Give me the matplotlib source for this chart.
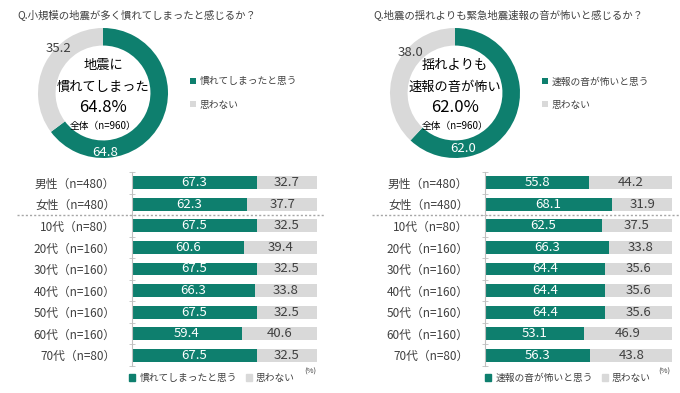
import numpy as np
import matplotlib
matplotlib.use("Agg")
import matplotlib.pyplot as plt
from matplotlib.patches import Patch

plt.rcParams["font.family"] = ["Noto Sans CJK JP", "DejaVu Sans"]

GREEN = "#0e7f6e"
GRAY  = "#d9d9d9"
TXT   = "#404040"
W, H  = 680, 393

CATEGORIES = ["男性（n=480）", "女性（n=480）", "10代（n=80）", "20代（n=160）",
              "30代（n=160）", "40代（n=160）", "50代（n=160）", "60代（n=160）",
              "70代（n=80）"]

# left panel: 慣れてしまった
L_TITLE  = "Q.小規模の地震が多く慣れてしまったと感じるか？"
L_TOTAL  = [64.8, 35.2]
L_CENTER = ["地震に", "慣れてしまった"]
L_LEGEND = ["慣れてしまったと思う", "思わない"]
L_YES    = [67.3, 62.3, 67.5, 60.6, 67.5, 66.3, 67.5, 59.4, 67.5]
L_NO     = [32.7, 37.7, 32.5, 39.4, 32.5, 33.8, 32.5, 40.6, 32.5]

# right panel: 緊急地震速報の音
R_TITLE  = "Q.地震の揺れよりも緊急地震速報の音が怖いと感じるか？"
R_TOTAL  = [62.0, 38.0]
R_CENTER = ["揺れよりも", "速報の音が怖い"]
R_LEGEND = ["速報の音が怖いと思う", "思わない"]
R_YES    = [55.8, 68.1, 62.5, 66.3, 64.4, 64.4, 64.4, 53.1, 56.3]
R_NO     = [44.2, 31.9, 37.5, 33.8, 35.6, 35.6, 35.6, 46.9, 43.8]


def px_axes(fig, x0, y0, x1, y1):
    """axes from pixel box (top-left origin)."""
    return fig.add_axes([x0 / W, 1 - y1 / H, (x1 - x0) / W, (y1 - y0) / H])


def draw_donut(fig, cx, cy, total, center, legend, lab_yes, lab_no, leg_x):
    r = 65
    ax = px_axes(fig, cx - r, cy - r, cx + r, cy + r)
    wedges, _ = ax.pie(total, colors=[GREEN, GRAY], startangle=90,
                       counterclock=False, radius=1.0,
                       wedgeprops=dict(width=0.27, edgecolor="none"))
    ax.set_xlim(-1, 1); ax.set_ylim(-1, 1)
    ax.set_aspect("auto")
    ax.axis("off")
    ax.text(*lab_yes, f"{total[0]:.1f}", color="white", fontsize=9.5,
            ha="center", va="center")
    ax.text(*lab_no, f"{total[1]:.1f}", color=TXT, fontsize=9.5,
            ha="center", va="center")
    ax.text(0.0, 0.42, center[0], fontsize=9.5, color="black",
            ha="center", va="center")
    ax.text(0.0, 0.09, center[1], fontsize=9.5, color="black",
            ha="center", va="center")
    ax.text(0.0, -0.22, f"{total[0]:.1f}%", fontsize=12, color="black",
            ha="center", va="center")
    ax.text(0.0, -0.51, "全体（n=960）", fontsize=7, color="black",
            ha="center", va="center")
    fig.legend(wedges, legend, loc="center left",
               bbox_to_anchor=(leg_x / W, 1 - 93 / H), frameon=False,
               fontsize=7, handlelength=0.65, handleheight=0.65,
               handletextpad=0.4, labelspacing=1.35, labelcolor=TXT)


def draw_bars(fig, x0, x1, yes, no, legend, leg_cx, pct_x, dash):
    ax = px_axes(fig, x0, 172, x1, 366)
    y = np.arange(len(CATEGORIES))
    ax.barh(y, yes, height=0.6, color=GREEN)
    ax.barh(y, no, left=yes, height=0.6, color=GRAY)
    for i in range(len(y)):
        ax.text(yes[i] / 2, y[i], f"{yes[i]:.1f}", color="white",
                fontsize=9.5, ha="center", va="center")
        ax.text(yes[i] + no[i] / 2, y[i], f"{no[i]:.1f}", color=TXT,
                fontsize=9.5, ha="center", va="center")
    ax.set_xlim(0, 100)
    ax.set_ylim(len(y) - 0.5, -0.5)
    ax.set_yticks(y)
    ax.set_yticklabels(CATEGORIES, fontsize=8.5, color=TXT)
    ax.set_yticks(np.arange(-0.5, len(y)), minor=True)
    ax.tick_params(axis="y", which="major", length=0, pad=12)
    ax.tick_params(axis="y", which="minor", length=5, direction="inout",
                   color="#bfbfbf")
    ax.set_xticks([])
    for s in ["top", "right", "bottom"]:
        ax.spines[s].set_visible(False)
    ax.spines["left"].set_color("#bfbfbf")
    ax.plot(dash, [1.5, 1.5], transform=ax.get_yaxis_transform(),
            color="#a6a6a6", lw=1.0, ls=(0, (1.5, 1.5)), clip_on=False)
    handles = [Patch(color=GREEN), Patch(color=GRAY)]
    fig.legend(handles, legend, loc="center", ncol=2,
               bbox_to_anchor=(leg_cx / W, 1 - 378 / H), frameon=False,
               fontsize=7, handlelength=0.65, handleheight=0.65,
               handletextpad=0.4, columnspacing=0.9, labelcolor=TXT)
    fig.text(pct_x / W, 1 - 372 / H, "(%)", fontsize=5.5, color=TXT,
             ha="center", va="center")


def main():
    fig = plt.figure(figsize=(W / 100, H / 100), dpi=100)

    fig.text(17 / W, 1 - 15 / H, L_TITLE, fontsize=7.5, color=TXT,
             ha="left", va="center")
    fig.text(373 / W, 1 - 15 / H, R_TITLE, fontsize=7.5, color=TXT,
             ha="left", va="center")

    draw_donut(fig, 103, 93, L_TOTAL, L_CENTER, L_LEGEND,
               (0.03, -0.91), (-0.69, 0.69), 181)
    draw_donut(fig, 455, 93, R_TOTAL, R_CENTER, R_LEGEND,
               (0.12, -0.85), (-0.69, 0.63), 533)

    draw_bars(fig, 132, 317, L_YES, L_NO, L_LEGEND, 212, 310, [-0.62, 1.043])
    draw_bars(fig, 485, 672, R_YES, R_NO, R_LEGEND, 568, 664, [-0.604, 1.043])

    fig.savefig("out.png", dpi=100)
    plt.close(fig)


if __name__ == "__main__":
    main()
